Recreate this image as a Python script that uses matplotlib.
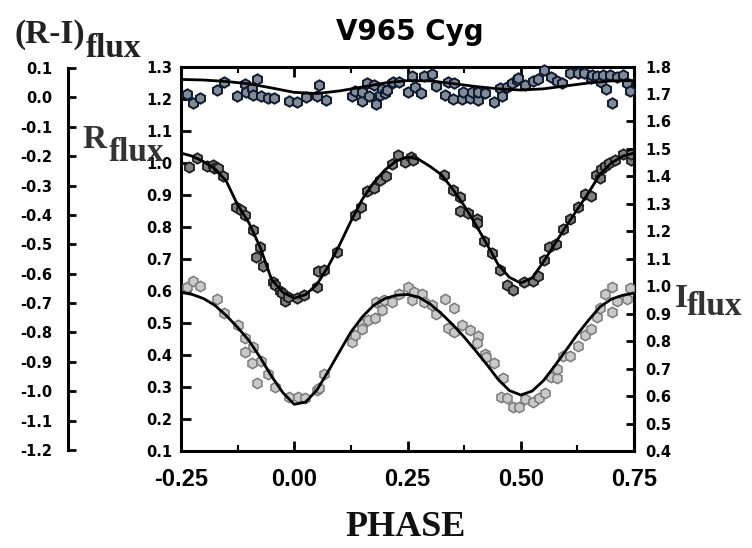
import matplotlib
matplotlib.use('Agg')
import matplotlib.pyplot as plt

# ---------------- data ----------------
# (R-I) flux points (far-left axis)
ri_phase = [-0.237, -0.223, -0.208, -0.171, -0.154, -0.126, -0.109, -0.107, -0.093, -0.090,
            -0.083, -0.074, -0.059, -0.044, -0.012, 0.007, 0.025, 0.051, 0.055, 0.069,
            0.127, 0.134, 0.149, 0.150, 0.160, 0.165, 0.177, 0.180, 0.189, 0.193,
            0.200, 0.204, 0.215, 0.219, 0.231, 0.250, 0.261, 0.267, 0.280, 0.287,
            0.305, 0.313, 0.333, 0.339, 0.351, 0.353, 0.370, 0.373, 0.388, 0.392,
            0.406, 0.405, 0.421, 0.442, 0.454, 0.458, 0.469, 0.480, 0.491, 0.495,
            0.509, 0.526, 0.539, 0.552, 0.567, 0.579, 0.592, 0.609, 0.626, 0.640,
            0.655, 0.658, 0.668, 0.677, 0.681, 0.688, 0.697, 0.701, 0.712, 0.726,
            0.734, 0.741]
ri_value = [0.011, -0.020, -0.001, 0.025, 0.051, 0.005, 0.045, 0.019, 0.033, 0.008,
            0.063, 0.005, -0.001, -0.001, -0.012, -0.015, 0.002, 0.006, 0.042, -0.009,
            0.005, 0.023, -0.011, 0.019, 0.048, 0.005, 0.042, -0.022, 0.008, 0.028,
            0.016, 0.025, 0.050, 0.053, 0.053, 0.019, 0.073, 0.036, 0.016, 0.073,
            0.080, 0.039, 0.008, 0.053, -0.006, 0.048, -0.006, 0.019, -0.003, 0.019,
            -0.009, 0.019, 0.014, -0.015, 0.031, 0.005, 0.036, 0.050, 0.059, 0.065,
            0.042, 0.057, 0.062, 0.093, 0.070, 0.057, 0.050, 0.084, 0.084, 0.082,
            0.065, 0.076, 0.073, 0.053, 0.076, 0.028, 0.076, -0.020, 0.070, 0.076,
            0.048, 0.023]

ri_fit_phase = [-0.25, -0.20, -0.15, -0.10, -0.05, 0.00, 0.05, 0.10, 0.15, 0.20, 0.25,
                0.30, 0.35, 0.40, 0.45, 0.50, 0.55, 0.60, 0.65, 0.70, 0.75]
ri_fit_value = [0.061, 0.059, 0.054, 0.046, 0.032, 0.017, 0.013, 0.022, 0.035, 0.049, 0.057,
                0.056, 0.047, 0.037, 0.029, 0.025, 0.029, 0.039, 0.049, 0.056, 0.057]

# R flux points (left axis)
r_phase = [-0.232, -0.214, -0.192, -0.180, -0.177, -0.168, -0.157, -0.129, -0.118, -0.109,
           -0.092, -0.076, -0.084, -0.070, -0.048, -0.042, -0.031, -0.028, -0.020, -0.013,
           0.006, 0.021, 0.050, 0.052, 0.066, 0.094, 0.134, 0.147, 0.160, 0.176,
           0.189, 0.203, 0.215, 0.229, 0.244, 0.257, 0.263, 0.331, 0.351, 0.366,
           0.366, 0.384, 0.403, 0.403, 0.419, 0.436, 0.454, 0.469, 0.482, 0.507,
           0.527, 0.539, 0.552, 0.562, 0.578, 0.593, 0.608, 0.626, 0.641, 0.654,
           0.666, 0.674, 0.677, 0.686, 0.695, 0.709, 0.726, 0.744, 0.743]
r_value = [0.986, 1.014, 0.988, 0.994, 0.983, 0.983, 0.957, 0.860, 0.851, 0.838,
           0.789, 0.736, 0.707, 0.676, 0.627, 0.619, 0.600, 0.593, 0.567, 0.582,
           0.576, 0.587, 0.613, 0.663, 0.665, 0.721, 0.838, 0.863, 0.910, 0.921,
           0.945, 0.958, 0.995, 1.024, 1.003, 1.016, 1.009, 0.962, 0.916, 0.892,
           0.850, 0.843, 0.823, 0.812, 0.756, 0.719, 0.664, 0.617, 0.602, 0.628,
           0.629, 0.647, 0.697, 0.736, 0.747, 0.794, 0.825, 0.861, 0.901, 0.896,
           0.961, 0.951, 0.979, 0.988, 0.999, 1.009, 1.027, 1.008, 1.026]

fit_phase = [-0.25, -0.225, -0.20, -0.175, -0.15, -0.125, -0.10, -0.075, -0.05, -0.025,
             0.0, 0.025, 0.05, 0.075, 0.10, 0.125, 0.15, 0.175, 0.20, 0.225,
             0.25, 0.275, 0.30, 0.325, 0.35, 0.375, 0.40, 0.425, 0.45, 0.475,
             0.50, 0.525, 0.55, 0.575, 0.60, 0.625, 0.65, 0.675, 0.70, 0.725, 0.75]
r_fit_value = [1.030, 1.020, 1.003, 0.981, 0.942, 0.868, 0.812, 0.735, 0.635, 0.595,
               0.577, 0.588, 0.620, 0.676, 0.743, 0.817, 0.885, 0.937, 0.977, 1.005,
               1.018, 1.010, 0.988, 0.962, 0.917, 0.866, 0.808, 0.746, 0.682, 0.642,
               0.624, 0.640, 0.690, 0.746, 0.801, 0.854, 0.907, 0.964, 0.999, 1.020, 1.030]

# I flux points (right axis)
i_phase = [-0.237, -0.223, -0.208, -0.171, -0.154, -0.125, -0.108, -0.090, -0.109, -0.094,
           -0.074, -0.083, -0.057, -0.043, -0.011, 0.008, 0.024, 0.050, 0.055, 0.066,
           0.127, 0.134, 0.149, 0.150, 0.162, 0.178, 0.180, 0.193, 0.199, 0.194,
           0.215, 0.231, 0.252, 0.261, 0.264, 0.281, 0.286, 0.304, 0.312, 0.333,
           0.339, 0.353, 0.352, 0.371, 0.388, 0.405, 0.403, 0.420, 0.424, 0.442,
           0.460, 0.456, 0.470, 0.482, 0.496, 0.510, 0.526, 0.540, 0.553, 0.567,
           0.579, 0.579, 0.594, 0.609, 0.627, 0.642, 0.655, 0.668, 0.675, 0.685,
           0.701, 0.701, 0.712, 0.734, 0.741]
i_value = [0.998, 1.019, 1.000, 0.953, 0.904, 0.858, 0.813, 0.777, 0.761, 0.722,
           0.727, 0.646, 0.679, 0.632, 0.597, 0.597, 0.593, 0.622, 0.630, 0.679,
           0.797, 0.822, 0.864, 0.843, 0.876, 0.883, 0.941, 0.943, 0.949, 0.913,
           0.943, 0.973, 0.997, 0.949, 0.979, 0.973, 0.942, 0.932, 0.898, 0.953,
           0.849, 0.922, 0.832, 0.857, 0.840, 0.819, 0.794, 0.755, 0.742, 0.722,
           0.667, 0.597, 0.594, 0.559, 0.559, 0.588, 0.579, 0.594, 0.610, 0.670,
           0.667, 0.697, 0.745, 0.745, 0.783, 0.822, 0.844, 0.888, 0.919, 0.973,
           0.997, 0.907, 0.945, 0.952, 0.992]

i_fit_value = [0.978, 0.970, 0.955, 0.930, 0.893, 0.850, 0.802, 0.740, 0.672, 0.612,
               0.570, 0.578, 0.622, 0.690, 0.762, 0.833, 0.888, 0.930, 0.955, 0.967,
               0.970, 0.960, 0.935, 0.900, 0.860, 0.815, 0.766, 0.715, 0.661, 0.620,
               0.604, 0.618, 0.656, 0.710, 0.767, 0.825, 0.877, 0.925, 0.953, 0.967, 0.975]

x_ticks = [-0.25, 0.0, 0.25, 0.50, 0.75]
x_tick_labels = ['-0.25', '0.00', '0.25', '0.50', '0.75']
x_minor = [-0.125, 0.125, 0.375, 0.625]
r_ticks = [0.1, 0.2, 0.3, 0.4, 0.5, 0.6, 0.7, 0.8, 0.9, 1.0, 1.1, 1.2, 1.3]
r_tick_labels = ['0.1', '0.2', '0.3', '0.4', '0.5', '0.6', '0.7', '0.8', '0.9', '1.0', '1.1', '1.2', '1.3']
i_ticks = [0.4, 0.5, 0.6, 0.7, 0.8, 0.9, 1.0, 1.1, 1.2, 1.3, 1.4, 1.5, 1.6, 1.7, 1.8]
i_tick_labels = ['0.4', '0.5', '0.6', '0.7', '0.8', '0.9', '1.0', '1.1', '1.2', '1.3', '1.4',
                 '1.5', '1.6', '1.7', '1.8']
ri_ticks = [0.1, 0.0, -0.1, -0.2, -0.3, -0.4, -0.5, -0.6, -0.7, -0.8, -0.9, -1.0, -1.1, -1.2]
ri_tick_labels = ['0.1', '0.0', '-0.1', '-0.2', '-0.3', '-0.4', '-0.5', '-0.6', '-0.7', '-0.8',
                  '-0.9', '-1.0', '-1.1', '-1.2']

# ---------------- figure ----------------
W, H = 752, 548
fig = plt.figure(figsize=(W / 100, H / 100), dpi=100)


def fx(x):
    return x / W


def fy(y):
    return 1 - y / H


L, R, T, B = 181, 634, 66.5, 451
ax = fig.add_axes([fx(L), fy(B), (R - L) / W, (B - T) / H])
ax_i = ax.twinx()
ax_ri = ax.twinx()

SPW = 2.2
tick_font = dict(family='DejaVu Sans', weight='bold', size=10.5)

# main (R) axis
ax.set_xlim(-0.25, 0.75)
ax.set_ylim(0.1, 1.3)
ax.set_xticks(x_ticks)
ax.set_xticklabels(x_tick_labels, family='Liberation Sans', weight='bold', size=17)
ax.set_xticks(x_minor, minor=True)
ax.set_yticks(r_ticks)
ax.set_yticklabels(r_tick_labels, **tick_font)
ax.tick_params(axis='x', which='major', direction='in', top=True, bottom=True,
               length=7, width=2, pad=12)
ax.tick_params(axis='x', which='minor', direction='in', top=True, bottom=True,
               length=4, width=1.5)
ax.tick_params(axis='y', which='major', direction='in', left=True, right=False,
               length=7, width=2, pad=6)
for s in ax.spines.values():
    s.set_linewidth(SPW)

# I axis (right)
ax_i.set_ylim(0.4, 1.8)
ax_i.set_yticks(i_ticks)
ax_i.set_yticklabels(i_tick_labels, **tick_font)
ax_i.tick_params(axis='y', direction='in', length=6, width=2, pad=8)
for k, s in ax_i.spines.items():
    s.set_linewidth(SPW)
    if k != 'right':
        s.set_visible(False)

# R-I axis (far left)
ax_ri.set_ylim(-1.2034, 0.105)
ax_ri.spines['left'].set_position(('axes', (68 - L) / (R - L)))
ax_ri.spines['left'].set_visible(True)
ax_ri.spines['left'].set_linewidth(SPW)
ax_ri.spines['left'].set_bounds(-1.2, 0.1)
for k in ('right', 'top', 'bottom'):
    ax_ri.spines[k].set_visible(False)
ax_ri.yaxis.set_ticks_position('left')
ax_ri.yaxis.set_label_position('left')
ax_ri.set_yticks(ri_ticks)
ax_ri.set_yticklabels(ri_tick_labels, **tick_font)
ax_ri.tick_params(axis='y', direction='in', length=6, width=2, pad=11)

# data
ms = 7.5
ax.plot(r_phase, r_value, linestyle='none', marker='h', ms=ms, mfc='#7f7f7f',
        mec='#1e1e1e', mew=1.3, zorder=3)
ax.plot(fit_phase, r_fit_value, color='black', lw=2.0, zorder=4)

ax_i.plot(i_phase, i_value, linestyle='none', marker='h', ms=ms, mfc='#c9c9c9',
          mec='#7a7a7a', mew=1.1, zorder=3)
ax_i.plot(fit_phase, i_fit_value, color='black', lw=2.0, zorder=4)

ax_ri.plot(ri_phase, ri_value, linestyle='none', marker='h', ms=ms, mfc='#858b95',
           mec='#0d1a33', mew=1.4, zorder=3, clip_on=False)
ax_ri.plot(ri_fit_phase, ri_fit_value, color='black', lw=2.0, zorder=4)

# texts
serif = 'Liberation Serif'
fig.text(fx(410), fy(40), 'V965 Cyg', ha='center', va='baseline',
         family='DejaVu Sans', weight='bold', size=20)
fig.text(fx(14), fy(43), '(R-I)', ha='left', va='baseline', family=serif,
         weight='bold', size=24, color='#222222')
fig.text(fx(86), fy(57), 'flux', ha='left', va='baseline', family=serif,
         weight='bold', size=24, color='#222222')
fig.text(fx(82), fy(148), 'R', ha='left', va='baseline', family=serif,
         weight='bold', size=24, color='#333333')
fig.text(fx(109), fy(161), 'flux', ha='left', va='baseline', family=serif,
         weight='bold', size=24, color='#333333')
fig.text(fx(675), fy(307), 'I', ha='left', va='baseline', family=serif,
         weight='bold', size=24, color='#333333')
fig.text(fx(687), fy(315), 'flux', ha='left', va='baseline', family=serif,
         weight='bold', size=24, color='#333333')
fig.text(fx(406), fy(536), 'PHASE', ha='center', va='baseline', family=serif,
         weight='bold', size=26, color='#111111')

fig.savefig('out.png', dpi=100)
